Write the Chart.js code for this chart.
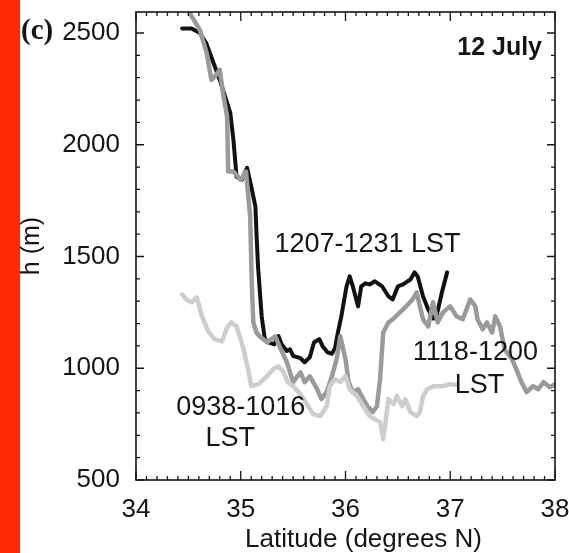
<!DOCTYPE html>
<html>
<head>
<meta charset="utf-8">
<script src="https://cdn.jsdelivr.net/npm/chart.js@4/dist/chart.umd.min.js"></script>
<style>
  html, body { margin: 0; padding: 0; background: #fff; }
  #wrap { position: relative; width: 569px; height: 553px; overflow: hidden; }
  #bar { position: absolute; left: 0; top: 0; width: 20px; height: 553px; background: #fe2a02; }
  #chart { position: absolute; left: 0; top: 0; }
</style>
</head>
<body>
<div id="wrap">
  <div id="bar"></div>
  <canvas id="chart" width="569" height="553"></canvas>
</div>
<script>
// tick labels
const xTicks = [34, 35, 36, 37, 38];
const yTicks = [500, 1000, 1500, 2000, 2500];

// 0938-1016 LST (light grey)
const latEarly = [34.44, 34.48, 34.53, 34.58, 34.63, 34.69, 34.75, 34.82, 34.87, 34.91,
  34.96, 35.02, 35.07, 35.10, 35.17, 35.25, 35.31, 35.36, 35.41, 35.45,
  35.50, 35.57, 35.63, 35.69, 35.76, 35.82, 35.85, 35.90, 35.95, 36.00,
  36.04, 36.11, 36.17, 36.23, 36.28, 36.33, 36.36, 36.41, 36.46, 36.49,
  36.54, 36.57, 36.62, 36.68, 36.71, 36.74, 36.78, 36.84, 36.93, 37.00, 37.06];
const hEarly = [1330, 1308, 1295, 1317, 1232, 1165, 1130, 1120, 1183, 1205,
  1187, 1098, 996, 920, 929, 964, 996, 1009, 982, 938,
  920, 884, 840, 795, 786, 830, 920, 951, 938, 964,
  906, 875, 830, 786, 772, 759, 683, 862, 840, 875,
  830, 862, 804, 786, 804, 875, 906, 920, 920, 929, 925];

// 1118-1200 LST (mid grey)
const latMid = [34.51, 34.61, 34.675, 34.72, 34.76, 34.80, 34.83, 34.87, 34.88, 34.93,
  35.00, 35.05, 35.09, 35.105, 35.12, 35.15, 35.18, 35.25, 35.33, 35.37,
  35.44, 35.50, 35.57, 35.61, 35.66, 35.73, 35.77, 35.82, 35.87, 35.915,
  35.95, 36.00, 36.03, 36.07, 36.12, 36.17, 36.21, 36.26, 36.30, 36.33,
  36.36, 36.41, 36.45, 36.52, 36.58, 36.64, 36.68, 36.71, 36.74, 36.79,
  36.835, 36.88, 36.93, 37.00, 37.06, 37.12, 37.19, 37.24, 37.26, 37.31,
  37.35, 37.40, 37.43, 37.475, 37.52, 37.59, 37.63, 37.68, 37.73, 37.79,
  37.84, 37.89, 37.95, 38.00];
const hMid = [2592, 2513, 2410, 2290, 2310, 2335, 2232, 2125, 1880, 1880,
  1843, 1880, 1679, 1384, 1205, 1160, 1143, 1116, 1143, 1098,
  1027, 938, 982, 938, 964, 906, 862, 893, 964, 1040,
  1143, 1040, 938, 893, 906, 862, 830, 804, 830, 951,
  1160, 1205, 1219, 1250, 1277, 1308, 1339, 1277, 1219, 1187,
  1295, 1205, 1250, 1277, 1232, 1219, 1308, 1277, 1219, 1174,
  1205, 1160, 1232, 1187, 1085, 1040, 996, 938, 893, 920,
  906, 938, 915, 929];

// 1207-1231 LST (black)
const latLate = [34.44, 34.53, 34.61, 34.67, 34.74, 34.80, 34.83, 34.90, 34.93, 34.96,
  35.01, 35.06, 35.10, 35.14, 35.15, 35.165, 35.20, 35.23, 35.27, 35.32,
  35.36, 35.39, 35.44, 35.47, 35.50, 35.54, 35.57, 35.61, 35.66, 35.70,
  35.75, 35.78, 35.83, 35.87, 35.90, 35.92, 35.96, 36.01, 36.04, 36.07,
  36.12, 36.15, 36.19, 36.23, 36.28, 36.35, 36.41, 36.45, 36.50, 36.55,
  36.62, 36.66, 36.69, 36.74, 36.79, 36.84, 36.87, 36.92, 36.97];
const hLate = [2520, 2520, 2500, 2455, 2366, 2290, 2246, 2143, 2022, 1857,
  1843, 1897, 1813, 1723, 1607, 1455, 1232, 1130, 1115, 1107,
  1144, 1107, 1077, 1085, 1055, 1050, 1045, 1027, 1050, 1116,
  1130, 1100, 1071, 1065, 1090, 1143, 1232, 1366, 1411, 1366,
  1277, 1366, 1380, 1375, 1389, 1366, 1322, 1308, 1366, 1375,
  1397, 1429, 1410, 1322, 1263, 1222, 1235, 1339, 1429];

const FONT = "'Liberation Sans', Arial, Helvetica, sans-serif";
const INK = '#151515';

// label placements in data coordinates
const notes = [
  { text: '1207-1231 LST', lat: 36.21, h: 1554 },
  { text: '1118-1200', lat: 37.24, h: 1071 },
  { text: 'LST', lat: 37.28, h: 924 },
  { text: '0938-1016', lat: 35.00, h: 826 },
  { text: 'LST', lat: 34.90, h: 687 }
];

function pts(xs, ys) {
  return xs.map((x, i) => ({ x: x, y: ys[i] }));
}

// keep the scales from adding their own label overhang to the layout
function noPad(s) {
  s.paddingTop = 0;
  s.paddingBottom = 0;
  s.paddingLeft = 0;
  s.paddingRight = 0;
}

const framePlugin = {
  id: 'frame',
  afterDatasetsDraw(chart) {
    const { ctx, chartArea: a, scales } = chart;
    ctx.save();
    ctx.strokeStyle = INK;
    ctx.lineWidth = 1.6;
    ctx.strokeRect(a.left, a.top, a.right - a.left, a.bottom - a.top);
    ctx.lineWidth = 1.3;
    ctx.beginPath();
    // inward ticks on x (bottom and top)
    for (let i = 0; i <= 40; i++) {
      const v = 34 + i / 10;
      const px = scales.x.getPixelForValue(v);
      const len = i % 10 === 0 ? 9 : 4;
      ctx.moveTo(px, a.bottom); ctx.lineTo(px, a.bottom - len);
      ctx.moveTo(px, a.top); ctx.lineTo(px, a.top + len);
    }
    // inward ticks on y (left and right)
    for (let v = 500; v <= 2500; v += 100) {
      const py = scales.y.getPixelForValue(v);
      const len = v % 500 === 0 ? 8 : 4;
      ctx.moveTo(a.left, py); ctx.lineTo(a.left + len, py);
      ctx.moveTo(a.right, py); ctx.lineTo(a.right - len, py);
    }
    ctx.stroke();
    ctx.restore();
  },
  afterDraw(chart) {
    const { ctx, chartArea: a, scales } = chart;
    ctx.save();
    ctx.fillStyle = INK;
    ctx.textBaseline = 'middle';
    ctx.textAlign = 'center';
    ctx.font = '27px ' + FONT;
    notes.forEach(n => {
      ctx.fillText(n.text, scales.x.getPixelForValue(n.lat), scales.y.getPixelForValue(n.h));
    });
    // x axis title sits a little right of centre in the original
    ctx.font = '26px ' + FONT;
    ctx.fillText('Latitude (degrees N)', (a.left + a.right) / 2 + 18, 540);
    ctx.textAlign = 'right';
    ctx.font = 'bold 25px ' + FONT;
    ctx.fillText('12 July', a.right - 13, a.top + 36);
    ctx.textAlign = 'left';
    ctx.font = "bold 29px 'Liberation Serif', 'Times New Roman', serif";
    ctx.fillText('(c)', 21, scales.y.getPixelForValue(2500) - 1);
    ctx.restore();
  }
};

const ctx = document.getElementById('chart').getContext('2d');

new Chart(ctx, {
  type: 'line',
  data: {
    datasets: [
      {
        label: '0938-1016 LST',
        data: pts(latEarly, hEarly),
        borderColor: '#cdcdcd',
        borderWidth: 4.5
      },
      {
        label: '1118-1200 LST',
        data: pts(latMid, hMid),
        borderColor: '#9a9a9a',
        borderWidth: 4.5
      },
      {
        label: '1207-1231 LST',
        data: pts(latLate, hLate),
        borderColor: '#111111',
        borderWidth: 4
      }
    ]
  },
  options: {
    responsive: false,
    animation: false,
    devicePixelRatio: 1,
    layout: { padding: { top: 12, right: 14, left: 0, bottom: 0 } },
    plugins: { legend: { display: false }, tooltip: { enabled: false } },
    elements: {
      point: { radius: 0 },
      line: { tension: 0, borderJoinStyle: 'round', borderCapStyle: 'round' }
    },
    scales: {
      x: {
        type: 'linear',
        min: 34,
        max: 38,
        afterBuildTicks: s => { s.ticks = xTicks.map(v => ({ value: v })); },
        afterFit: s => { s.height = 73; noPad(s); },
        grid: { display: false, drawTicks: false },
        border: { display: false },
        ticks: { color: INK, font: { size: 26, family: FONT }, padding: 14, maxRotation: 0, callback: v => v },
        title: { display: false }
      },
      y: {
        type: 'linear',
        min: 500,
        max: 2594,
        afterBuildTicks: s => { s.ticks = yTicks.map(v => ({ value: v })); },
        afterFit: s => { s.width = 136; noPad(s); },
        grid: { display: false, drawTicks: false },
        border: { display: false },
        ticks: { color: INK, font: { size: 26, family: FONT }, padding: 16, callback: v => v },
        title: { display: true, text: 'h (m)', color: INK, font: { size: 25, family: FONT }, padding: { top: 17, bottom: 0 } }
      }
    }
  },
  plugins: [framePlugin]
});
</script>
</body>
</html>
